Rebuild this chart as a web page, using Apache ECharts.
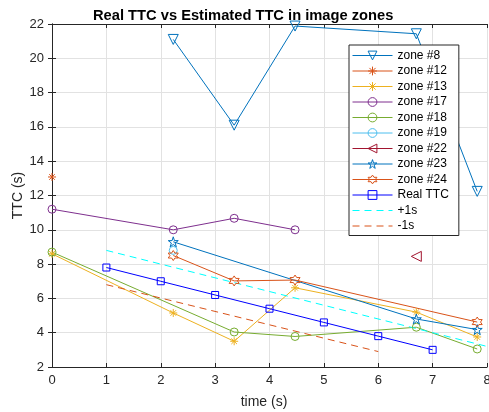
<!DOCTYPE html>
<html>
<head>
<meta charset="utf-8">
<script src="https://cdn.jsdelivr.net/npm/echarts@6/dist/echarts.min.js"></script>
<style>
  html, body { margin: 0; padding: 0; background: #fff; }
  #chart { width: 489px; height: 412px; }
</style>
</head>
<body>
<div id="chart"></div>
<script>
// sample times (s) of the estimated TTC in each zone
const zoneTimes = [0, 2.23, 3.35, 4.47, 6.7, 7.82]
const zone8  = [null, 21.1, 16.1, 21.88, 21.43, 12.24]
const zone12 = [13.08, null, null, null, null, null]
const zone13 = [8.6, 5.15, 3.5, 6.62, 5.2, 3.75]
const zone17 = [11.2, 10.0, 10.67, 10.0, null, null]
const zone18 = [8.7, null, 4.04, 3.78, 4.32, 3.05]
const zone19 = [null, 8.8, null, null, null, null]
const zone22 = [null, null, null, null, 8.45, null]
const zone23 = [null, 9.3, null, null, 4.8, 4.18]
const zone24 = [null, 8.5, 7.02, 7.07, null, 4.62]

const realTimes = [1, 2, 3, 4, 5, 6, 7]
const realTTC = [7.8, 7.0, 6.2, 5.4, 4.6, 3.8, 3.0]

const plusTimes = [1, 8]
const plusOne = [8.8, 3.2]
const minusTimes = [1, 6]
const minusOne = [6.8, 2.9]

const xTicks = [0, 1, 2, 3, 4, 5, 6, 7, 8]
const yTicks = [2, 4, 6, 8, 10, 12, 14, 16, 18, 20, 22]

const pairs = (xs, ys) => xs.map((x, i) => [x, ys[i]]).filter(p => p[1] != null)

// star shaped marker paths (pentagram / hexagram)
const starPath = (n, inner) => {
  let d = ''
  for (let i = 0; i < 2 * n; i++) {
    const r = i % 2 === 0 ? 50 : 50 * inner
    const a = -Math.PI / 2 + i * Math.PI / n
    d += (i === 0 ? 'M' : 'L') + (50 + r * Math.cos(a)).toFixed(2) + ',' + (50 + r * Math.sin(a)).toFixed(2)
  }
  return 'path://' + d + 'Z'
}
const asterisk = 'path://M50,0L50,100M0,50L100,50M15,15L85,85M15,85L85,15'
const pentagram = starPath(5, 0.382)
const hexagram = starPath(6, 0.577)

const zone = (name, data, color, symbol, size, rotate) => ({
  name,
  type: 'line',
  data: pairs(zoneTimes, data),
  symbol,
  symbolSize: size,
  symbolRotate: rotate || 0,
  color,
  lineStyle: { color, width: 1 },
  itemStyle: { color: 'transparent', borderColor: color, borderWidth: 1 }
})

const series = [
  zone('zone #8', zone8, '#0072BD', 'triangle', 10, 180),
  zone('zone #12', zone12, '#D95319', asterisk, 8),
  zone('zone #13', zone13, '#EDB120', asterisk, 8),
  zone('zone #17', zone17, '#7E2F8E', 'circle', 8),
  zone('zone #18', zone18, '#77AC30', 'circle', 8),
  zone('zone #19', zone19, '#4DBEEE', 'circle', 8),
  zone('zone #22', zone22, '#A2142F', 'triangle', 10, 90),
  zone('zone #23', zone23, '#0072BD', pentagram, 10),
  zone('zone #24', zone24, '#D95319', hexagram, 10),
  {
    name: 'Real TTC',
    type: 'line',
    data: pairs(realTimes, realTTC),
    symbol: 'rect',
    symbolSize: 7,
    color: '#0000FF',
    lineStyle: { color: '#0000FF', width: 1 },
    itemStyle: { color: 'transparent', borderColor: '#0000FF', borderWidth: 1 }
  },
  {
    name: '+1s',
    type: 'line',
    data: pairs(plusTimes, plusOne),
    symbol: 'none',
    color: '#00FFFF',
    lineStyle: { color: '#00FFFF', width: 1, type: [7, 5] }
  },
  {
    name: '-1s',
    type: 'line',
    data: pairs(minusTimes, minusOne),
    symbol: 'none',
    color: '#D95319',
    lineStyle: { color: '#D95319', width: 1, type: [7, 5] }
  }
]

const axisColor = '#262626'
const font = 'Liberation Sans, Arial, Helvetica, sans-serif'

const chart = echarts.init(document.getElementById('chart'), null, { renderer: 'canvas' })
chart.setOption({
  animation: false,
  backgroundColor: '#fff',
  textStyle: { fontFamily: font },
  title: {
    text: 'Real TTC vs Estimated TTC in image zones',
    left: 88,
    top: 3,
    textStyle: { fontSize: 14.7, fontWeight: 'bold', color: '#000', fontFamily: font }
  },
  grid: { left: 52, right: 2, top: 24, bottom: 45, containLabel: false, outerBoundsMode: 'none' },
  legend: {
    orient: 'vertical',
    left: 349,
    top: 45,
    padding: [3, 10, 2, 3],
    itemWidth: 40,
    itemHeight: 11,
    itemGap: 0.5,
    backgroundColor: '#fff',
    borderColor: axisColor,
    borderWidth: 1,
    borderRadius: 0,
    itemStyle: { color: 'transparent', borderWidth: 1 },
    lineStyle: { width: 1 },
    textStyle: { fontSize: 12, color: '#000', fontFamily: font, lineHeight: 15 },
    data: series.map(s => s.symbol === 'none'
      ? { name: s.name, itemStyle: { opacity: 0 } }
      : s.name)
  },
  xAxis: [
    {
      type: 'value', min: xTicks[0], max: xTicks[xTicks.length - 1], interval: 1,
      name: 'time (s)', nameLocation: 'middle', nameGap: 28, nameMoveOverlap: false,
      nameTextStyle: { fontSize: 14, color: axisColor, padding: [0, 11, 0, 0] },
      axisLine: { lineStyle: { color: axisColor } },
      axisTick: { inside: true, length: 4, lineStyle: { color: axisColor } },
      axisLabel: { fontSize: 13, color: axisColor, margin: 7 },
      splitLine: { show: true, lineStyle: { color: '#e2e2e2' } }
    },
    {
      type: 'value', position: 'top', min: xTicks[0], max: xTicks[xTicks.length - 1], interval: 1,
      axisLine: { show: true, lineStyle: { color: axisColor } },
      axisTick: { show: true, inside: true, length: 4, lineStyle: { color: axisColor } },
      axisLabel: { show: false },
      splitLine: { show: false }
    }
  ],
  yAxis: [
    {
      type: 'value', min: yTicks[0], max: yTicks[yTicks.length - 1], interval: 2,
      name: 'TTC (s)', nameLocation: 'middle', nameGap: 27, nameMoveOverlap: false,
      nameTextStyle: { fontSize: 14, color: axisColor },
      axisLine: { show: true, lineStyle: { color: axisColor } },
      axisTick: { show: true, inside: true, length: 4, lineStyle: { color: axisColor } },
      axisLabel: { fontSize: 13, color: axisColor, margin: 8 },
      splitLine: { show: true, lineStyle: { color: '#e2e2e2' } }
    },
    {
      type: 'value', position: 'right', min: yTicks[0], max: yTicks[yTicks.length - 1], interval: 2,
      axisLine: { show: true, lineStyle: { color: axisColor } },
      axisTick: { show: true, inside: true, length: 4, lineStyle: { color: axisColor } },
      axisLabel: { show: false },
      splitLine: { show: false }
    }
  ],
  series
})
</script>
</body>
</html>
